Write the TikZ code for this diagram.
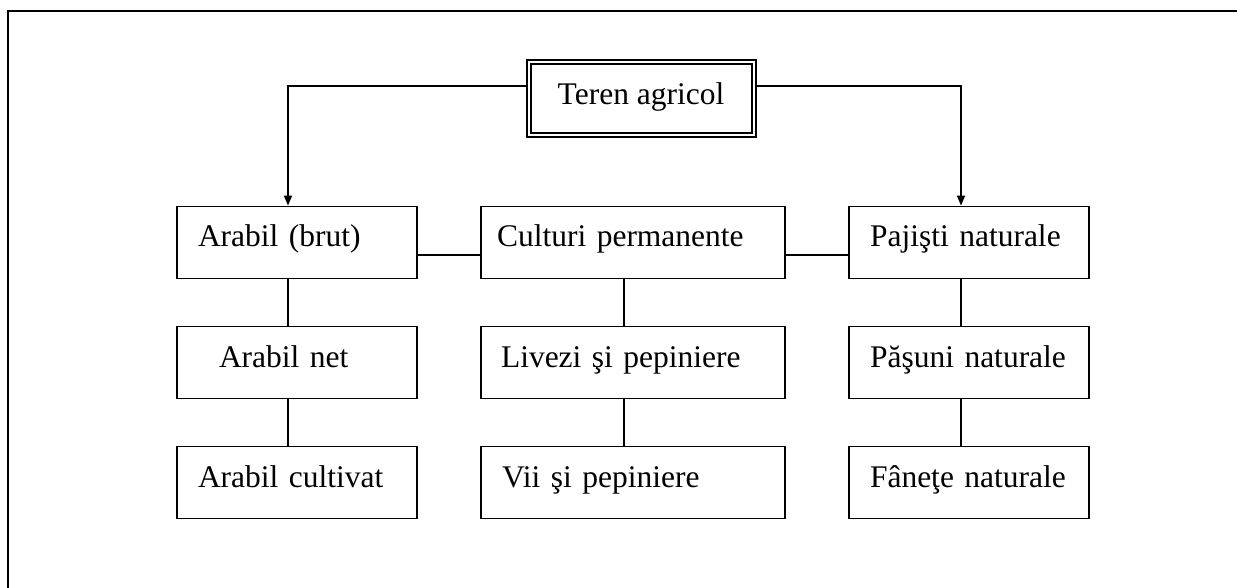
\documentclass[tikz,border=0pt]{standalone}
\usepackage{fontspec}
\setmainfont{Liberation Serif}
\usetikzlibrary{arrows.meta}
\begin{document}
\begin{tikzpicture}[x=1pt,y=-1pt,
  every node/.style={font=\fontsize{31.5}{36}\selectfont},
  box/.style={draw, line width=1.8pt, minimum height=72pt, inner ysep=0pt,
    align=left, text height=22pt, text depth=13pt},
  topbox/.style={draw, line width=2pt, double, double distance=2pt,
    minimum width=225pt, minimum height=73pt, inner sep=0pt, outer sep=3pt,
    align=center, text height=21pt, text depth=8pt},
  conn/.style={line width=1.5pt},
  arr/.style={-{Triangle[length=10pt,width=8pt]}},
  frame/.style={line width=2.5pt}
]
\useasboundingbox (0,0) rectangle (1237,588);
\draw[frame] (8,588) -- (8,11) -- (1237,11);

\node[topbox] (teren) at (641,98.5) {Teren agricol};

\node[box, text width=198pt, inner xsep=21pt] (arb)  at (297,242.5) {Arabil (brut)};
\node[box, text width=156pt, inner xsep=42pt] (net)  at (297,362.5) {Arabil net};
\node[box, text width=198pt, inner xsep=21pt] (cult) at (297,482.5) {Arabil cultivat};

\node[box, text width=272pt, inner xsep=16pt] (cp)  at (633,242.5) {Culturi permanente};
\node[box, text width=264pt, inner xsep=20pt] (liv) at (633,362.5) {Livezi şi pepiniere};
\node[box, text width=262pt, inner xsep=21pt] (vii) at (633,482.5) {Vii şi pepiniere};

\node[box, text width=198pt, inner xsep=21pt] (paj) at (969,242.5) {Pajişti naturale};
\node[box, text width=198pt, inner xsep=21pt] (pas) at (969,362.5) {Păşuni naturale};
\node[box, text width=198pt, inner xsep=21pt] (fan) at (969,482.5) {Fâneţe naturale};

\draw[conn, arr] ([yshift=12.5pt]teren.west) -| ([xshift=-9pt]arb.north);
\draw[conn, arr] ([yshift=12.5pt]teren.east) -| ([xshift=-8pt]paj.north);

\draw[conn] ([yshift=-12.5pt]arb.east) -- ([yshift=-12.5pt]cp.west);
\draw[conn] ([yshift=-12.5pt]cp.east) -- ([yshift=-12.5pt]paj.west);

\draw[conn] ([xshift=-9pt]arb.south) -- ([xshift=-9pt]net.north);
\draw[conn] ([xshift=-9pt]net.south) -- ([xshift=-9pt]cult.north);
\draw[conn] ([xshift=-9pt]cp.south) -- ([xshift=-9pt]liv.north);
\draw[conn] ([xshift=-9pt]liv.south) -- ([xshift=-9pt]vii.north);
\draw[conn] ([xshift=-8pt]paj.south) -- ([xshift=-8pt]pas.north);
\draw[conn] ([xshift=-8pt]pas.south) -- ([xshift=-8pt]fan.north);
\end{tikzpicture}
\end{document}
